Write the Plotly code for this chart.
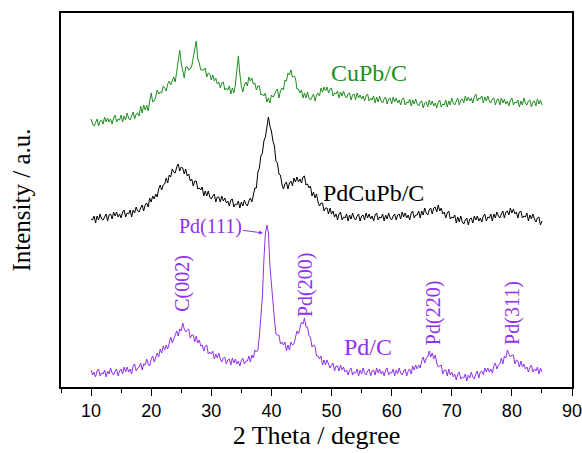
import plotly.graph_objects as go

two_theta = [10 + 0.25 * i for i in range(301)]

pd_c = [
17,12,15,10, 16,18,11,14, 13,17,10,16, 13,19,14,12, 16,18,11,16,
18,13,20,15, 20,15,18,13, 21,23,16,19, 20,24,17,23, 22,28,23,21,
28,31,25,31, 34,30,38,34, 41,37,42,38, 46,50,44,48, 50,56,51,58,
56,64,58,55, 57,58,49,52, 52,45,51,44, 47,41,42,36, 41,42,33,35,
33,36,28,33, 29,34,28,25, 29,30,23,27, 28,22,29,24, 28,23,26,21,
27,29,23,26, 26,31,25,32, 29,37,35,37, 51,69,90,127, 154,162,154,121,
103,80,68,53, 52,52,43,45, 42,45,36,42, 37,45,42,43, 50,56,53,61,
65,63,69,60, 60,51,50,40, 42,41,31,31, 28,31,22,27, 22,27,22,19,
22,24,16,21, 21,16,22,17, 20,15,17,12, 17,19,12,15, 14,18,11,17,
13,19,14,12, 16,18,11,16, 17,12,19,14, 18,13,16,11, 17,19,12,15,
14,18,11,17, 13,19,14,12, 16,18,11,16, 18,13,21,17, 22,18,22,19,
26,30,24,29, 30,36,30,34, 28,32,24,20, 21,22,13,17, 17,11,18,12,
15,10,13,7, 13,15,8,10, 9,13,6,12, 9,15,10,8, 13,16,9,15,
16,12,19,15, 19,15,18,14, 21,24,18,22, 23,29,23,31, 29,37,33,30,
32,32,23,27, 26,20,26,20, 23,18,20,15, 20,22,15,18, 16,20,13,19,
15]

pdcupb_c = [
168,167,171,164, 171,167,173,168, 167,171,173,166, 172,173,168,175, 171,175,170,173,
169,175,177,170, 174,173,177,170, 177,174,180,176, 175,179,182,176, 182,184,180,189,
185,191,188,193, 190,198,202,197, 202,203,209,204, 212,210,218,215, 214,220,223,216,
220,219,213,218, 211,213,206,208, 201,206,206,198, 199,197,200,191, 196,191,196,190,
188,191,193,185, 190,190,185,191, 186,189,184,186, 181,187,188,180, 183,182,186,179,
185,181,187,183, 181,186,189,185, 193,199,199,215, 219,231,234,246, 250,262,270,261,
256,246,241,226, 224,213,212,203, 198,203,205,198, 204,206,201,209, 205,210,205,208,
204,210,211,202, 203,199,201,191, 195,189,193,185, 181,184,184,176, 179,179,173,179,
173,176,170,173, 167,173,175,167, 170,169,173,166, 172,168,174,169, 167,171,173,166,
171,172,167,174, 169,173,168,171, 166,172,174,167, 170,169,173,166, 172,168,174,169,
167,171,173,167, 172,173,168,175, 170,174,169,172, 167,174,176,169, 172,172,176,169,
176,172,179,174, 172,177,179,173, 179,180,175,182, 176,179,173,175, 169,174,176,168,
170,169,172,164, 170,165,171,165, 163,167,169,162, 168,169,164,171, 167,171,166,169,
165,171,173,166, 170,169,173,166, 173,169,175,171, 169,173,176,169, 175,176,172,179,
174,178,173,175, 169,175,176,169, 171,170,174,166, 172,168,173,168, 165,169,170,162,
166]

cupb_c = [
268,263,261,265, 268,261,266,267, 263,270,265,269, 265,268,263,269, 272,265,268,267,
272,265,271,267, 274,269,267,271, 275,268,273,274, 271,281,274,282, 277,282,276,286,
294,285,286,290, 297,293,295,294, 301,299,296,303, 306,302,306,310, 305,316,327,337,
324,318,309,320, 320,317,318,321, 331,338,346,328, 324,317,317,317, 319,310,314,313,
307,312,306,309, 303,305,299,304, 305,297,299,297, 301,293,299,294, 302,315,331,313,
301,295,302,305, 301,310,306,309, 303,304,297,301, 301,292,293,291, 294,285,289,284,
292,290,292,296, 298,289,296,299, 297,307,306,314, 312,317,310,311, 309,298,298,294,
297,289,294,289, 295,289,287,290, 293,286,292,294, 291,299,295,300, 296,300,294,298,
299,291,294,293, 296,289,295,291, 296,291,289,293, 294,287,292,293, 287,294,289,292,
288,291,286,291, 293,286,289,287, 291,284,290,285, 291,286,284,288, 290,283,288,289,
283,290,285,289, 284,287,282,288, 289,282,285,284, 288,281,287,283, 288,283,281,285,
286,279,284,285, 280,287,282,286, 281,284,279,285, 287,280,283,282, 287,280,286,282,
289,284,282,286, 289,282,287,288, 284,291,286,290, 286,289,284,290, 293,286,289,288,
291,284,290,286, 291,286,284,288, 289,282,287,288, 282,289,284,288, 283,286,281,287,
289,282,285,284, 287,280,286,282, 289,284,282,286, 287,280,285,286, 281,288,283,287,
282]

x_ticks = [10, 20, 30, 40, 50, 60, 70, 80, 90]

assert len(pd_c) == len(pdcupb_c) == len(cupb_c) == len(two_theta)

GREEN = "#1E8F1E"
PURPLE = "#9030F0"
SERIF = "Liberation Serif"

fig = go.Figure()
fig.add_trace(go.Scatter(x=two_theta, y=cupb_c, mode="lines",
                         line=dict(color=GREEN, width=1), showlegend=False))
fig.add_trace(go.Scatter(x=two_theta, y=pdcupb_c, mode="lines",
                         line=dict(color="black", width=1), showlegend=False))
fig.add_trace(go.Scatter(x=two_theta, y=pd_c, mode="lines",
                         line=dict(color=PURPLE, width=1), showlegend=False))

def label(x, y, text, color, size, angle=0):
    fig.add_annotation(x=x, y=y, text=text, showarrow=False, textangle=angle,
                       font=dict(family=SERIF, size=size, color=color))

label(56.2, 314, "CuPb/C", GREEN, 24)
label(56.9, 194, "PdCuPb/C", "black", 24)
label(56.1, 40, "Pd/C", PURPLE, 24)
label(25.1, 104, "C(002)", PURPLE, 20, -90)
label(45.6, 102, "Pd(200)", PURPLE, 20, -90)
label(66.9, 74, "Pd(220)", PURPLE, 20, -90)
label(80.0, 74, "Pd(311)", PURPLE, 20, -90)
fig.add_annotation(x=38.6, y=154, ax=29.8, ay=161, axref="x", ayref="y",
                   text="Pd(111)", showarrow=True, arrowhead=2, arrowsize=0.8,
                   arrowwidth=1, arrowcolor=PURPLE,
                   font=dict(family=SERIF, size=20, color=PURPLE))

fig.update_layout(
    width=582, height=453,
    margin=dict(l=61, r=10, t=13, b=66),
    plot_bgcolor="white", paper_bgcolor="white",
    xaxis=dict(range=[5, 90], tickvals=x_ticks, ticks="outside", ticklen=7,
               tickwidth=1.2, tickcolor="black", automargin=False,
               ticklabeloverflow="allow",
               minor=dict(dtick=5, tick0=5, ticks="outside", ticklen=4, tickwidth=1.2, tickcolor="black"),
               showline=True, linecolor="black", linewidth=1.5, mirror=True,
               showgrid=False, zeroline=False,
               tickfont=dict(family="Liberation Sans", size=18, color="black"),
               title=dict(text="2 Theta / degree", standoff=4,
                          font=dict(family=SERIF, size=26, color="black"))),
    yaxis=dict(range=[0, 374], showticklabels=False, ticks="", automargin=False,
               showline=True, linecolor="black", linewidth=1.5, mirror=True,
               showgrid=False, zeroline=False,
               title=dict(text="Intensity / a.u.", standoff=22,
                          font=dict(family=SERIF, size=25, color="black"))),
)

fig.write_html("out.html", config={"displayModeBar": False},
               post_script="document.body.style.margin='0';")
